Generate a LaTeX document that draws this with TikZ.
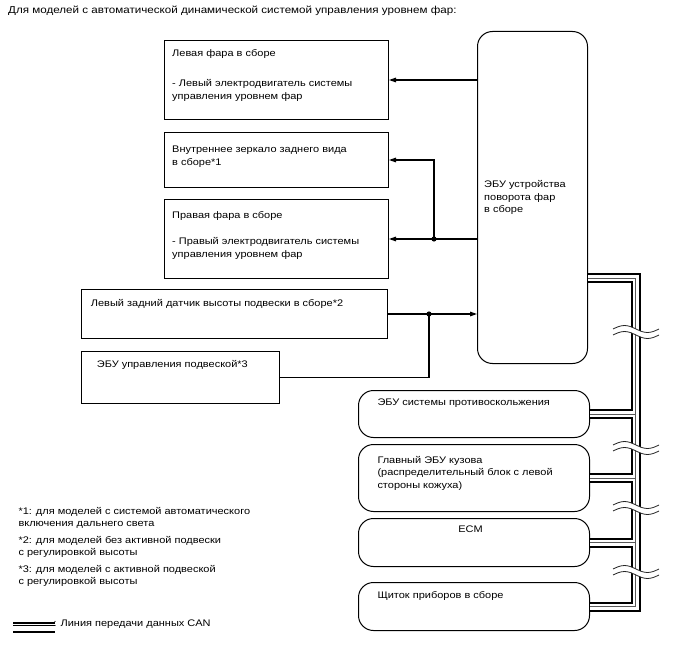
\documentclass[tikz,border=0pt]{standalone}
\usepackage{fontspec}
\setmainfont{Liberation Sans}[FakeStretch=1.15]
\usetikzlibrary{arrows.meta,calc}
\usetikzlibrary{positioning}

\begin{document}
\begin{tikzpicture}[x=1pt,y=-1pt,>={Triangle[length=7pt,width=4.6pt]},every node/.style={font=\fontsize{9.55}{12.4}\selectfont,inner sep=0pt},box/.style={draw,line width=1pt,anchor=north west},rbox/.style={box,rounded corners=15pt},txt/.style={anchor=base west,align=left},wire/.style={line width=1.1pt},wave/.style={line width=0.8pt,black!85}]
\useasboundingbox (0,0) rectangle (688,658);
\node[txt,font=\fontsize{10.1}{12.4}\selectfont] (title) at (8,14) {Для моделей с автоматической динамической системой управления уровнем фар:};
\node[box,minimum width=224pt,minimum height=79pt] (a) at (164,40) {};
\node[box,minimum width=224pt,minimum height=55pt] (b) at (164,132) {};
\node[box,minimum width=224pt,minimum height=79pt] (c) at (164,199) {};
\node[box,minimum width=306pt,minimum height=49pt] (d) at (81,289) {};
\node[box,minimum width=198pt,minimum height=52pt] (e) at (81,351) {};
\node[rbox,minimum width=110pt,minimum height=332pt] (f) at (477,31) {};
\node[rbox,minimum width=231pt,minimum height=47pt] (g) at (358,390) {};
\node[rbox,minimum width=231pt,minimum height=67pt] (h) at (358,444) {};
\node[rbox,minimum width=231pt,minimum height=48pt] (i) at (358,518) {};
\node[rbox,minimum width=231pt,minimum height=48pt] (j) at (358,582) {};
\node[txt] (ta) at ($(a.north west)+(8,59.3)$) {Левая фара в сборе\\[18.2pt]- Левый электродвигатель системы\\управления уровнем фар};
\node[txt] (tb) at ($(b.north west)+(8,33)$) {Внутреннее зеркало заднего вида\\в сборе*1};
\node[txt] (tc) at ($(c.north west)+(8,58.3)$) {Правая фара в сборе\\[14.3pt]- Правый электродвигатель системы\\управления уровнем фар};
\node[txt] (td) at ($(d.north west)+(9.7,17.7)$) {Левый задний датчик высоты подвески в сборе*2};
\node[txt] (te) at ($(e.north west)+(15.7,16.3)$) {ЭБУ управления подвеской*3};
\node[txt] (tf) at ($(f.north west)+(7,181.7)$) {ЭБУ устройства\\поворота фар\\в сборе};
\node[txt] (tg) at ($(g.north west)+(19.3,15)$) {ЭБУ системы противоскольжения};
\node[txt] (th) at ($(h.north west)+(19.3,44.3)$) {Главный ЭБУ кузова\\(распределительный блок с левой\\стороны кожуха)};
\node[anchor=base] (ti) at ($(i.north)+(-3.5,14.7)$) {ECM};
\node[txt] (tj) at ($(j.north west)+(19.3,16.3)$) {Щиток приборов в сборе};
\node[txt,font=\fontsize{9.55}{11.7}\selectfont] (notes) at (18.3,584) {*1: для моделей с системой автоматического\\включения дальнего света\\[5.3pt]*2: для моделей без активной подвески\\с регулировкой высоты\\[5.3pt]*3: для моделей с активной подвеской\\с регулировкой высоты};
\node[txt] (legend) at (53.3,626.7) {: Линия передачи данных CAN};
\draw[wire,->] (f.west |- a.east) -- (a.east);
\draw[wire,->] (f.west |- c.east) -- (c.east);
\coordinate (p) at ($(c.east)+(45,0)$);
\draw[wire,->] (p) |- (b.east);
\coordinate (q) at ($(d.east)+(41,0)$);
\draw[wire,->] (d.east) -- (d.east -| f.west);
\draw[wire] (q) |- (e.east);
\foreach \n in {p,q} \fill (\n) circle (2.6pt);
\path (f.south east) ++(0,-86) coordinate (f1);
\coordinate (bt) at ($(j.east)+(45.5,0)$);
\def\canbus{(f1) -| (bt) -- (j.east) (g.east) -- (g.east -| bt) (h.east) -- (h.east -| bt) (i.east) -- (i.east -| bt)}
\foreach \w/\c in {10pt/black,6pt/white,0.9pt/black!65} \draw[line width=\w,draw=\c] \canbus;
\foreach \y in {332,448,508,572} {
  \draw[white,line width=5pt] (613,\y) sin ++(11.5,-3.5) cos ++(11.5,3.5) sin ++(11.5,3.5) cos ++(11.5,-3.5);
  \foreach \s in {-3,3} \draw[wave] (613,\y+\s) sin ++(11.5,-3.5) cos ++(11.5,3.5) sin ++(11.5,3.5) cos ++(11.5,-3.5);
}
\coordinate (lg) at (13,627);
\foreach \o/\w in {-4.2/1.7pt,-2/0.8pt,5/1.7pt} \draw[line width=\w] ($(lg)+(0,\o)$) -- ++(42,0);
\end{tikzpicture}
\end{document}
